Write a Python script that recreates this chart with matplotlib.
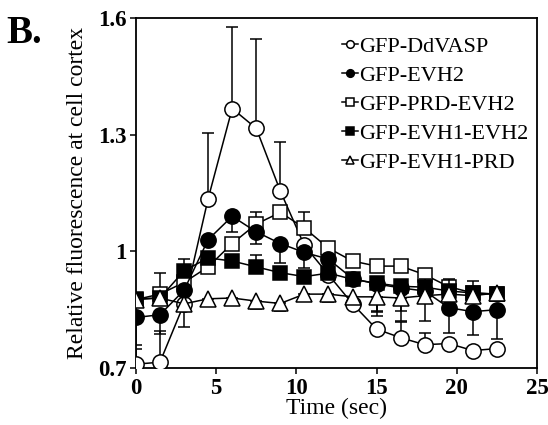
import numpy as np
import matplotlib
matplotlib.use("Agg")
import matplotlib.pyplot as plt

time = [0, 1.5, 3, 4.5, 6, 7.5, 9, 10.5, 12, 13.5, 15, 16.5, 18, 19.5, 21, 22.5]

labels = ["GFP-DdVASP", "GFP-EVH2", "GFP-PRD-EVH2", "GFP-EVH1-EVH2", "GFP-EVH1-PRD"]

ddvasp = [0.71, 0.715, 0.865, 1.135, 1.367, 1.316, 1.155, 1.015, 0.94, 0.865, 0.80, 0.778, 0.76, 0.763, 0.745, 0.75]
ddvasp_hi = [0.04, 0.08, 0, 0.17, 0.21, 0.23, 0.125, 0, 0, 0, 0, 0.04, 0.03, 0, 0, 0]
ddvasp_lo = [0, 0, 0.06, 0, 0, 0, 0, 0, 0, 0, 0, 0, 0, 0, 0, 0]

evh2 = [0.83, 0.837, 0.90, 1.03, 1.09, 1.05, 1.02, 0.997, 0.98, 0.93, 0.916, 0.906, 0.898, 0.855, 0.845, 0.85]
evh2_hi = [0] * 16
evh2_lo = [0.07, 0.05, 0, 0, 0.04, 0.03, 0.05, 0.04, 0, 0, 0.07, 0.06, 0, 0.065, 0.06, 0.075]

prd_evh2 = [0.876, 0.89, 0.92, 0.96, 1.02, 1.07, 1.10, 1.06, 1.008, 0.975, 0.962, 0.962, 0.94, 0.909, 0.893, 0.89]
prd_evh2_hi = [0, 0.055, 0, 0, 0, 0.03, 0, 0.04, 0, 0, 0, 0, 0, 0, 0, 0]
prd_evh2_lo = [0] * 16

evh1_evh2 = [0.878, 0.88, 0.95, 0.983, 0.975, 0.96, 0.945, 0.935, 0.944, 0.928, 0.918, 0.91, 0.908, 0.898, 0.893, 0.89]
evh1_evh2_hi = [0, 0, 0.03, 0, 0, 0.03, 0, 0, 0, 0, 0, 0, 0.02, 0.03, 0.03, 0]
evh1_evh2_lo = [0, 0, 0, 0, 0, 0, 0, 0, 0, 0, 0.075, 0, 0, 0, 0, 0]

evh1_prd = [0.876, 0.88, 0.865, 0.878, 0.88, 0.872, 0.866, 0.89, 0.89, 0.883, 0.883, 0.88, 0.886, 0.89, 0.886, 0.893]
evh1_prd_hi = [0] * 16
evh1_prd_lo = [0, 0, 0, 0.015, 0.015, 0.02, 0.02, 0.015, 0.02, 0, 0.05, 0.06, 0.065, 0, 0, 0]

yticks = [0.7, 1.0, 1.3, 1.6]
ytick_labels = ["0.7", "1", "1.3", "1.6"]
xticks = [0, 5, 10, 15, 20, 25]

plt.rcParams['font.family'] = ['Liberation Serif', 'DejaVu Serif']

fig = plt.figure(figsize=(5.48, 4.25), dpi=100)
ax = fig.add_axes([0.248, 0.134, 0.732, 0.824])

series = [
    (ddvasp, ddvasp_lo, ddvasp_hi, 'o', 'white', 0),
    (prd_evh2, prd_evh2_lo, prd_evh2_hi, 's', 'white', 2),
    (evh2, evh2_lo, evh2_hi, 'o', 'black', 1),
    (evh1_evh2, evh1_evh2_lo, evh1_evh2_hi, 's', 'black', 3),
    (evh1_prd, evh1_prd_lo, evh1_prd_hi, '^', 'white', 4),
]

t = np.array(time)
handles = [None] * 5
for z, (vals, lo, hi, mk, fc, li) in enumerate(series):
    v = np.array(vals)
    lo = np.array(lo)
    hi = np.array(hi)
    zo = 3 + z
    m = hi > 0
    if m.any():
        ax.errorbar(t[m], v[m], yerr=[np.zeros(m.sum()), hi[m]], fmt='none',
                    ecolor='black', elinewidth=1.1, capsize=4.5, capthick=1.1, zorder=zo - 0.5)
    m = lo > 0
    if m.any():
        ax.errorbar(t[m], v[m], yerr=[lo[m], np.zeros(m.sum())], fmt='none',
                    ecolor='black', elinewidth=1.1, capsize=4.5, capthick=1.1, zorder=zo - 0.5)
    ms = 11 if mk != '^' else 11.5
    if mk == 's':
        ms = 10.5
    line, = ax.plot(t, v, marker=mk, color='black', markerfacecolor=fc,
                    markeredgecolor='black', markeredgewidth=1.1, markersize=ms,
                    linewidth=1.1, zorder=zo, label=labels[li])
    handles[li] = line

ax.set_xlim(0, 25)
ax.set_ylim(0.7, 1.6)
ax.set_xticks(xticks)
ax.set_xticklabels([str(x) for x in xticks])
ax.set_yticks(yticks)
ax.set_yticklabels(ytick_labels)
ax.tick_params(direction='out', length=4, width=1.1, labelsize=16.5, pad=3)
for lab in ax.get_xticklabels() + ax.get_yticklabels():
    lab.set_fontweight('bold')
for s in ax.spines.values():
    s.set_linewidth(1.3)
ax.set_xlabel("Time (sec)", fontsize=17, labelpad=-1)
ax.set_ylabel("Relative fluorescence at cell cortex", fontsize=17, labelpad=7)

leg = ax.legend(handles=handles, labels=labels, loc='upper left',
                bbox_to_anchor=(0.515, 0.948), frameon=False, fontsize=16,
                markerscale=0.5, handlelength=0.7, handletextpad=0.05,
                labelspacing=0.38, borderaxespad=0, borderpad=0)

fig.text(0.012, 0.965, "B.", fontsize=28, fontweight='bold', va='top', ha='left')

fig.savefig("out.png", dpi=100)
